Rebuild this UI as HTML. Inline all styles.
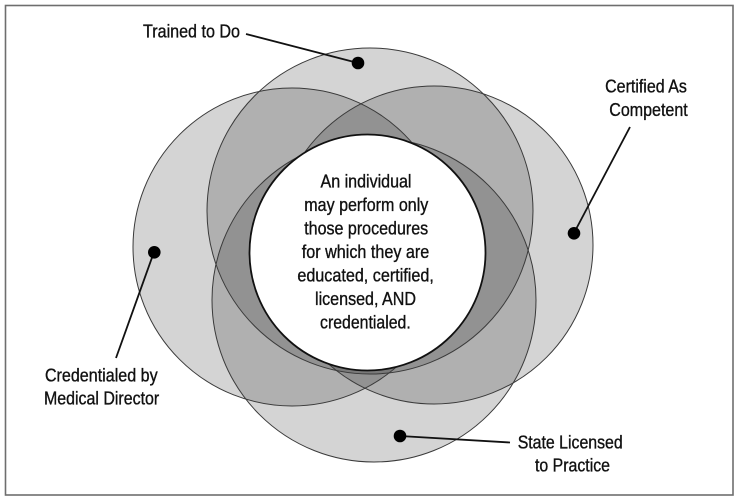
<!DOCTYPE html>
<html>
<head>
<meta charset="utf-8">
<style>
  html,body{margin:0;padding:0;background:#fff;}
  svg{display:block;}
  text{font-family:"Liberation Sans",Arial,sans-serif;font-size:18px;fill:#111;stroke:#111;stroke-width:0.35;}
</style>
</head>
<body>
<svg width="740" height="502" viewBox="0 0 740 502" xmlns="http://www.w3.org/2000/svg">
  <rect x="0" y="0" width="740" height="502" fill="#fff"/>
  <rect x="5.5" y="5.5" width="727.5" height="489.5" fill="none" stroke="#6e6e6e" stroke-width="1.6"/>

  <!-- overlapping circles -->
  <g fill="#000" fill-opacity="0.17">
    <circle cx="370" cy="211" r="163"/>
    <circle cx="374" cy="300" r="162"/>
    <circle cx="292" cy="247" r="159"/>
    <circle cx="434" cy="245" r="159"/>
  </g>
  <g fill="none" stroke="#3a3a3a" stroke-width="1">
    <circle cx="370" cy="211" r="163"/>
    <circle cx="374" cy="300" r="162"/>
    <circle cx="292" cy="247" r="159"/>
    <circle cx="434" cy="245" r="159"/>
  </g>

  <!-- central white circle -->
  <circle cx="367.5" cy="252.5" r="118" fill="#fff" stroke="#111" stroke-width="1.8"/>

  <!-- central text -->
  <g text-anchor="middle">
    <text x="366" y="187.3" textLength="91" lengthAdjust="spacingAndGlyphs">An individual</text>
    <text x="366.3" y="210.8" textLength="124" lengthAdjust="spacingAndGlyphs">may perform only</text>
    <text x="366.2" y="234.3" textLength="124" lengthAdjust="spacingAndGlyphs">those procedures</text>
    <text x="365.5" y="257.8" textLength="127.5" lengthAdjust="spacingAndGlyphs">for which they are</text>
    <text x="365.6" y="281.3" textLength="136.5" lengthAdjust="spacingAndGlyphs">educated, certified,</text>
    <text x="365.5" y="304.8" textLength="101" lengthAdjust="spacingAndGlyphs">licensed, AND</text>
    <text x="365.4" y="328.3" textLength="90.7" lengthAdjust="spacingAndGlyphs">credentialed.</text>
  </g>

  <!-- connector lines -->
  <g stroke="#111" stroke-width="1.8" fill="none">
    <line x1="246" y1="34" x2="358" y2="63"/>
    <line x1="630" y1="127" x2="574" y2="233"/>
    <line x1="154" y1="252" x2="116" y2="358"/>
    <line x1="400" y1="436" x2="510" y2="442.5"/>
  </g>
  <!-- dots -->
  <g fill="#000">
    <circle cx="358" cy="63" r="6.3"/>
    <circle cx="574" cy="233.3" r="6.3"/>
    <circle cx="154.3" cy="252.3" r="6.3"/>
    <circle cx="400" cy="436" r="6.3"/>
  </g>

  <!-- outer labels -->
  <text x="143" y="37.3" textLength="97" lengthAdjust="spacingAndGlyphs">Trained to Do</text>

  <g text-anchor="middle">
    <text x="646" y="92.7" textLength="81.7" lengthAdjust="spacingAndGlyphs">Certified As</text>
    <text x="648.5" y="115.8" textLength="78.4" lengthAdjust="spacingAndGlyphs">Competent</text>

    <text x="101.3" y="381.7" textLength="112.7" lengthAdjust="spacingAndGlyphs">Credentialed by</text>
    <text x="101.6" y="404.3" textLength="115.3" lengthAdjust="spacingAndGlyphs">Medical Director</text>

    <text x="570.2" y="448.3" textLength="105" lengthAdjust="spacingAndGlyphs">State Licensed</text>
    <text x="572.5" y="471.7" textLength="75" lengthAdjust="spacingAndGlyphs">to Practice</text>
  </g>
</svg>
</body>
</html>
